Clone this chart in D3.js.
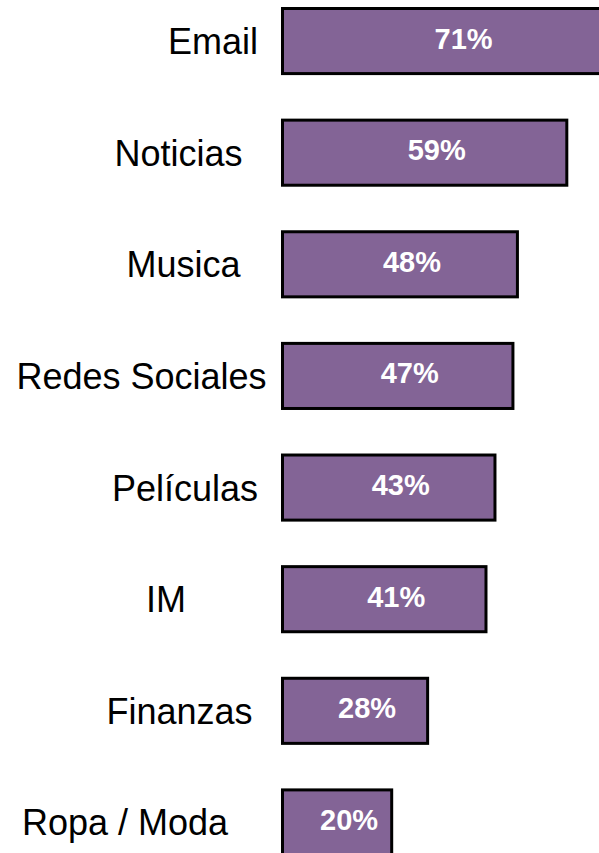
<!DOCTYPE html>
<html>
<head>
<meta charset="utf-8">
<script src="https://cdn.jsdelivr.net/npm/d3@7/dist/d3.min.js"></script>
<style>
  html, body { margin: 0; padding: 0; background: #fff; overflow: hidden; }
  svg { display: block; }
</style>
</head>
<body>
<svg id="chart" width="599" height="853"></svg>
<script>
// ---- data ----
const categories = ["Email", "Noticias", "Musica", "Redes Sociales", "Películas", "IM", "Finanzas", "Ropa / Moda"];
const values = [71, 59, 48, 47, 43, 41, 28, 20];
const valueLabels = ["71%", "59%", "48%", "47%", "43%", "41%", "28%", "20%"];

// ---- layout (separate from data) ----
const labelCenters = [213, 178.5, 183.5, 141.5, 185, 166, 179.5, 125];
const barLeft = 281;
const stroke = 3;

const svg = d3.select("#chart");
const font = "'Liberation Sans', Arial, Helvetica, sans-serif";

const x = d3.scaleLinear().domain([0, 100]).range([303.4, 752.4]);
const y = d3.scaleBand().domain(categories).range([7, 856.5]).paddingInner(0.39).paddingOuter(0);

const rows = categories.map((c, i) => ({ c, v: values[i], lab: valueLabels[i], lc: labelCenters[i] }));

const g = svg.append("g");

g.selectAll("rect.bar")
  .data(rows)
  .join("rect")
  .attr("class", "bar")
  .attr("x", barLeft + stroke / 2)
  .attr("y", d => y(d.c) + stroke / 2)
  .attr("width", d => x(d.v) - barLeft - stroke)
  .attr("height", y.bandwidth() - stroke)
  .attr("fill", "#836496")
  .attr("stroke", "#000")
  .attr("stroke-width", stroke);

g.selectAll("text.val")
  .data(rows)
  .join("text")
  .attr("class", "val")
  .attr("x", d => (barLeft + x(d.v)) / 2 + 12)
  .attr("y", d => y(d.c) + 41.5)
  .attr("text-anchor", "middle")
  .attr("fill", "#fff")
  .attr("font-family", font)
  .attr("font-weight", "bold")
  .attr("font-size", 29)
  .text(d => d.lab);

g.selectAll("text.cat")
  .data(rows)
  .join("text")
  .attr("class", "cat")
  .attr("x", d => d.lc)
  .attr("y", d => y(d.c) + 47)
  .attr("text-anchor", "middle")
  .attr("fill", "#000")
  .attr("font-family", font)
  .attr("font-size", 36)
  .text(d => d.c);
</script>
</body>
</html>
